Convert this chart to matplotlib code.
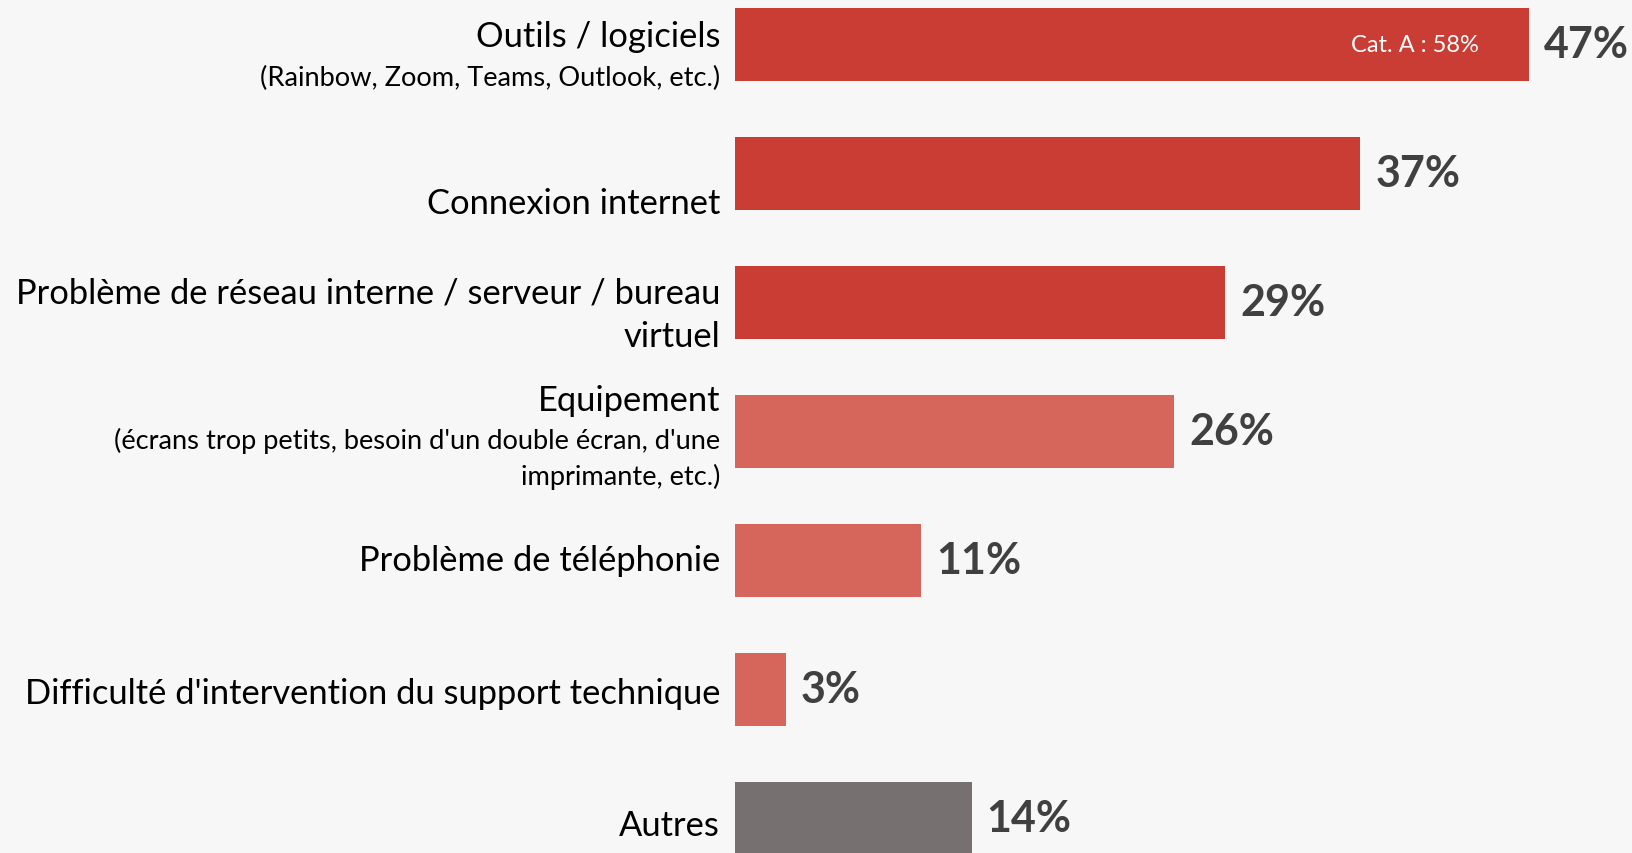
import matplotlib
matplotlib.use("Agg")
import matplotlib.pyplot as plt

# Données du graphique
categories = [
    "Outils / logiciels",
    "Connexion internet",
    "Problème de réseau interne / serveur / bureau",
    "Equipement",
    "Problème de téléphonie",
    "Difficulté d'intervention du support technique",
    "Autres",
]
lignes_suite = [
    [],
    [],
    ["virtuel"],
    [],
    [],
    [],
    [],
]
sous_titres = [
    ["(Rainbow, Zoom, Teams, Outlook, etc.)"],
    [],
    [],
    ["(écrans trop petits, besoin d'un double écran, d'une", "imprimante, etc.)"],
    [],
    [],
    [],
]
valeurs = [47, 37, 29, 26, 11, 3, 14]
couleurs = ["#C93D34", "#C93D34", "#C93D34", "#D6665C", "#D6665C", "#D6665C", "#767170"]
note_cat_a = "Cat. A : 58%"

FOND = "#F7F7F7"
TEXTE_VAL = "#404040"
plt.rcParams["font.family"] = ["Lato", "DejaVu Sans"]

fig = plt.figure(figsize=(16.32, 8.54), dpi=100, facecolor=FOND)
ax = fig.add_axes([0, 0, 1, 1])
ax.set_facecolor(FOND)

# échelle : ~17 px par point de pourcentage, barres à partir de x=735 px
px_par_pct = 16.9
ax.set_xlim(-735 / px_par_pct, (1632 - 735) / px_par_pct)
pas = 129.0
ax.set_ylim((854 - 45.5) / pas, -45.5 / pas)

y = list(range(len(valeurs)))
ax.barh(y, valeurs, height=73 / pas, color=couleurs, left=0)

# décalages verticaux (px, vers le bas) des lignes de libellé / centre de barre
decal_titre = [-8, 30, -10, -31.5, 0, 3.5, 7]
decal_suite = [0, 0, 34, 0, 0, 0, 0]
decal_sous = [[32.5], [], [], [8, 44.5], [], [], []]


def libelle(txt, i, dy, taille):
    ax.annotate(txt, (0, i), xytext=(-15, -dy), textcoords="offset pixels",
                ha="right", va="center", fontsize=taille, color="black")


for i, v in enumerate(valeurs):
    ax.annotate(f"{v}%", (v, i), xytext=(15, 0), textcoords="offset pixels",
                ha="left", va="center", fontsize=31, fontweight="bold",
                color=TEXTE_VAL)
    libelle(categories[i], i, decal_titre[i], 24.8)
    for ligne in lignes_suite[i]:
        libelle(ligne, i, decal_suite[i], 24.8)
    for ligne, dy in zip(sous_titres[i], decal_sous[i]):
        libelle(ligne, i, dy, 19.6)

ax.annotate(note_cat_a, (valeurs[0], 0), xytext=(-50, 0), textcoords="offset pixels",
            ha="right", va="center", fontsize=17, color="white")

ax.axis("off")
fig.savefig("out.png", dpi=100, facecolor=FOND)
